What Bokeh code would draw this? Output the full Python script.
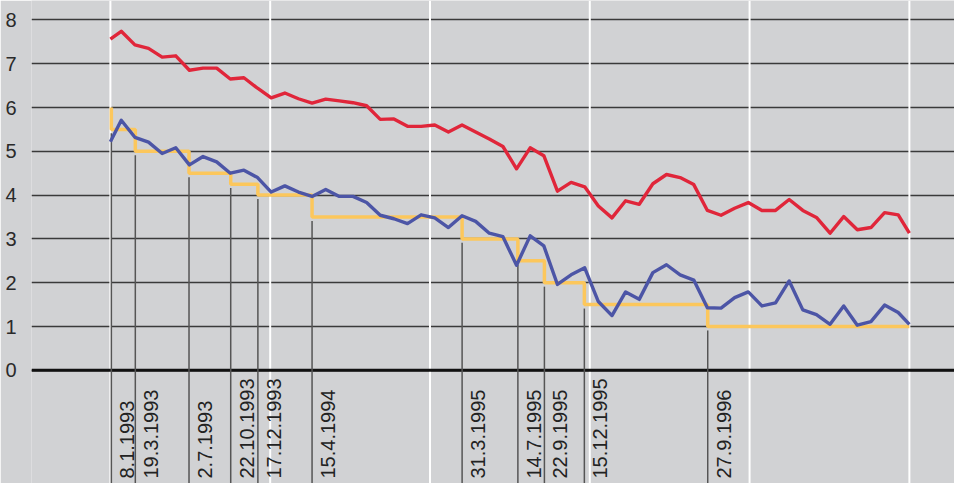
import math
from bokeh.plotting import figure
from bokeh.models import Range1d, Span, FixedTicker
from bokeh.core.properties import value
from bokeh.embed import file_html
from bokeh.resources import INLINE

# ---- data ----
long_rate = [7.56, 7.74, 7.43, 7.35, 7.15, 7.18, 6.85, 6.90, 6.90, 6.65,
             6.68, 6.44, 6.22, 6.33, 6.20, 6.10, 6.19, 6.15, 6.11, 6.04,
             5.73, 5.74, 5.57, 5.57, 5.60, 5.44, 5.60, 5.44, 5.28, 5.11,
             4.60, 5.08, 4.90, 4.09, 4.29, 4.19, 3.75, 3.48, 3.87, 3.79,
             4.26, 4.47, 4.40, 4.24, 3.65, 3.54, 3.70, 3.83, 3.65, 3.65,
             3.90, 3.65, 3.49, 3.13, 3.51, 3.21, 3.26, 3.60, 3.55, 3.13]
short_rate = [5.22, 5.71, 5.32, 5.21, 4.95, 5.08, 4.69, 4.88, 4.76, 4.50,
              4.57, 4.40, 4.07, 4.21, 4.07, 3.97, 4.13, 3.97, 3.97, 3.83,
              3.54, 3.46, 3.35, 3.55, 3.48, 3.26, 3.53, 3.40, 3.13, 3.05,
              2.40, 3.07, 2.84, 1.96, 2.18, 2.34, 1.57, 1.25, 1.79, 1.62,
              2.23, 2.41, 2.18, 2.06, 1.43, 1.42, 1.66, 1.79, 1.47, 1.54,
              2.04, 1.38, 1.27, 1.05, 1.47, 1.03, 1.11, 1.49, 1.32, 1.05]
# observation dates as decimal years (first and last are partial periods)
obs_x = [1993.0] + [1993.068 + 0.0853 * k for k in range(58)] + [1998.0]

change_labels = ["8.1.1993", "19.3.1993", "2.7.1993", "22.10.1993", "17.12.1993",
                 "15.4.1994", "31.3.1995", "14.7.1995", "22.9.1995", "15.12.1995",
                 "27.9.1996"]
change_x = [1993.006, 1993.156, 1993.492, 1993.753, 1993.923, 1994.262,
            1995.201, 1995.550, 1995.716, 1995.966, 1996.738]
discount_before = 6.0
discount_after = [5.5, 5.0, 4.5, 4.25, 4.0, 3.5, 3.0, 2.5, 2.0, 1.5, 1.0]

year_lines = [1993, 1994, 1995, 1996, 1997, 1998]
y_ticks = [0, 1, 2, 3, 4, 5, 6, 7, 8]

# ---- styling ----
BG = "#d1d2d4"
RED = "#e0263a"
BLUE = "#4c55a6"
YELLOW = "#fcc75c"
FONT = "Liberation Sans"

Y0, Y1 = -2.584, 8.443

p = figure(width=954, height=483, output_backend="svg", toolbar_location=None,
           x_range=Range1d(1992.5063, 1998.2823), y_range=Range1d(Y0, Y1),
           min_border_left=31, min_border_right=0, min_border_top=0, min_border_bottom=0,
           background_fill_color=BG, border_fill_color=BG, outline_line_color=None,
           x_axis_location=None)

p.yaxis.ticker = FixedTicker(ticks=y_ticks)
p.yaxis.axis_line_color = None
p.yaxis.major_tick_line_color = None
p.yaxis.minor_tick_line_color = None
p.yaxis.major_label_standoff = 9
p.yaxis.major_label_text_font = FONT
p.yaxis.major_label_text_font_size = "20px"
p.yaxis.major_label_text_color = "#2a2a2a"

p.ygrid.grid_line_color = "#3a3a3a"
p.ygrid.grid_line_width = 1.3

for yr in year_lines:
    p.add_layout(Span(location=yr, dimension="height", line_color="white",
                      line_width=2, level="underlay"))

p.add_layout(Span(location=0, dimension="width", line_color="#111111",
                  line_width=3, level="underlay"))

# vertical markers at discount rate changes
p.segment(x0=change_x, y0=[r - 0.09 for r in discount_after],
          x1=change_x, y1=[Y0] * len(change_x),
          line_color="#555555", line_width=1.5)

# discount rate step line
sx, sy = [], []
prev = discount_before
for x, r in zip(change_x, discount_after):
    sx += [x, x]
    sy += [prev, r]
    prev = r
sx.append(obs_x[-1])
sy.append(prev)
p.line(sx, sy, line_color=YELLOW, line_width=3.5)

p.line(obs_x, short_rate, line_color=BLUE, line_width=3.4, line_join="round")
p.line(obs_x, long_rate, line_color=RED, line_width=3.4, line_join="round")

p.text(x=change_x, y=[Y0] * len(change_x), text=change_labels,
       angle=math.pi / 2, text_align="left", text_baseline="alphabetic",
       x_offset=16, y_offset=-5, text_font=value(FONT), text_font_size="20px",
       text_color="#222222")

open("out.html", "w").write(file_html(p, INLINE))
